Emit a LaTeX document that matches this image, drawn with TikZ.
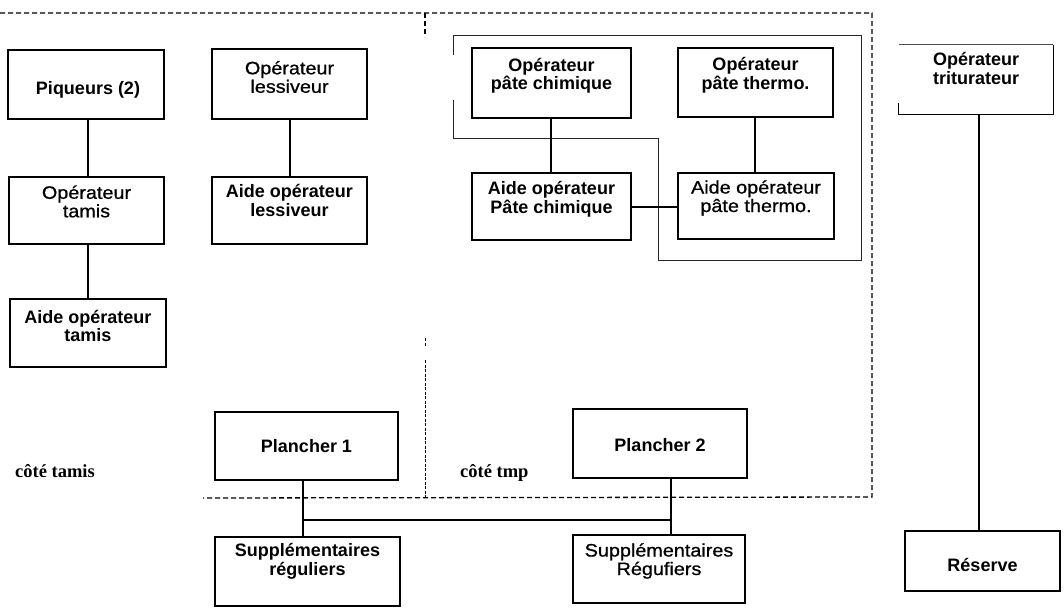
\documentclass[tikz,border=0pt]{standalone}
\usepackage{fontspec}
\setmainfont{Liberation Sans}
\newfontfamily\regfont{Liberation Sans}[FakeStretch=1.1, FakeBold=0.8]
\newfontfamily\notefont{Liberation Serif}
\usetikzlibrary{calc}

\tikzset{
  box/.style 2 args={draw, line width=1.3pt, minimum width=#1pt, minimum height=#2pt, inner sep=0pt},
  boxline/.style={line width=1.3pt},
  lbl/.style={align=center, inner sep=0pt, font=\regfont\fontsize{18}{18.5}\selectfont},
  lblb/.style={align=center, inner sep=0pt, font=\bfseries\fontsize{18}{18.5}\selectfont},
  note/.style={anchor=base west, inner sep=0pt, font=\notefont\bfseries\fontsize{18.5}{18.5}\selectfont},
  link/.style={line width=1.2pt},
  frame/.style={line width=0.9pt, draw=black!85},
  divide/.style={line width=1.3pt, dash pattern=on 5pt off 3pt},
  thindivide/.style={line width=0.8pt, dash pattern=on 3pt off 1.5pt}
}

\begin{document}
\begin{tikzpicture}[x=1pt, y=-1pt]
\useasboundingbox (0,0) rectangle (1064,607);

% zone boundaries
\draw[divide] (0,13) -- (872,13) -- (872,497) -- (203,498);
\draw[divide] (425,13) -- (425,37);
\draw[thindivide] (425,338) -- (425,346);
\draw[thindivide] (425,360) -- (425,498);

% pulp group outline
\draw[frame] (453,55) -- (453,35) -- (861,35) -- (861,260) -- (658,260) -- (658,138) -- (453,138) -- (453,100);

% left column: screens
\node[box={156}{69}] (pq) at (86,84.5) {};
\node[lblb] (pq-t) at ($(pq.center)+(2,5)$) {Piqueurs (2)};
\node[box={155}{67}] (ot) at (86.5,210.5) {};
\node[lbl] (ot-t) at ($(ot.center)+(0,-9)$) {Opérateur\\tamis};
\node[box={156}{68}] (at) at (88,333) {};
\node[lblb] (at-t) at ($(at.center)+(0,-7)$) {Aide opérateur\\tamis};

% cooking
\node[box={155}{70}] (ol) at (289.5,84) {};
\node[lbl] (ol-t) at ($(ol.center)+(0,-7)$) {Opérateur\\lessiveur};
\node[box={155}{67}] (al) at (289.5,210.5) {};
\node[lblb] (al-t) at ($(al.center)+(0,-10)$) {Aide opérateur\\lessiveur};

% pulp lines
\node[box={159}{70}] (oc) at (551.5,83) {};
\node[lblb] (oc-t) at ($(oc.center)+(0,-7)$) {Opérateur\\pâte chimique};
\node[box={155}{69}] (oth) at (755.5,82.5) {};
\node[lblb] (oth-t) at ($(oth.center)+(0,-7)$) {Opérateur\\pâte thermo.};
\node[box={159}{67}] (ac) at (551.5,206.5) {};
\node[lblb] (ac-t) at ($(ac.center)+(0,-7)$) {Aide opérateur\\Pâte chimique};
\node[box={156}{66}] (ath) at (756,206) {};
\node[lbl] (ath-t) at ($(ath.center)+(0,-8)$) {Aide opérateur\\pâte thermo.};

% floors
\node[box={183}{68}] (p1) at (306.5,446) {};
\node[lblb] (p1-t) at ($(p1.center)+(0,0)$) {Plancher 1};
\node[box={174}{69}] (p2) at (660,443.5) {};
\node[lblb] (p2-t) at ($(p2.center)+(0,2)$) {Plancher 2};
\node[box={185}{69}] (s1) at (307.5,571.5) {};
\node[lblb] (s1-t) at ($(s1.center)+(0,-10)$) {Supplémentaires\\réguliers};
\node[box={172}{68}] (s2) at (659,569) {};
\node[lbl] (s2-t) at ($(s2.center)+(0,-8)$) {Supplémentaires\\Régufiers};

% right column
\node[minimum width=154pt, minimum height=69pt, inner sep=0pt] (tr) at (976,79.5) {};
\draw[boxline] ($(tr.south west)+(0,-11)$) -- (tr.south west) -- (tr.south east) -- (tr.north east);
\draw[boxline, line width=0.9pt, draw=black!70] (tr.north east) -- (tr.north west);
\node[lblb] (tr-t) at ($(tr.center)+(0,-11)$) {Opérateur\\triturateur};
\node[box={155}{60}] (re) at (982.5,561) {};
\node[lblb] (re-t) at ($(re.center)+(0,4)$) {Réserve};

% zone labels
\node[note] (n1) at (15,477) {côté tamis};
\node[note] (n2) at (460,477) {côté tmp};

% connectors
\coordinate (xa) at (88,0);
\coordinate (xb) at (290,0);
\coordinate (xc) at (551,0);
\coordinate (xd) at (755,0);
\coordinate (xe) at (979,0);
\coordinate (j1) at (303,520);
\coordinate (j2) at (671,520);
\coordinate (yh) at (0,207);

\draw[link] (pq.south -| xa) -- (ot.north -| xa);
\draw[link] (ot.south -| xa) -- (at.north -| xa);
\draw[link] (ol.south -| xb) -- (al.north -| xb);
\draw[link] (oc.south -| xc) -- (ac.north -| xc);
\draw[link] (oth.south -| xd) -- (ath.north -| xd);
\draw[link] (ac.east |- yh) -- (ath.west |- yh);
\draw[link] (tr.south -| xe) -- (re.north -| xe);
\draw[link] (p1.south -| j1) -- (s1.north -| j1);
\draw[link] (p2.south -| j2) -- (s2.north -| j2);
\draw[link] (j1) -- (j2);
\end{tikzpicture}
\end{document}
